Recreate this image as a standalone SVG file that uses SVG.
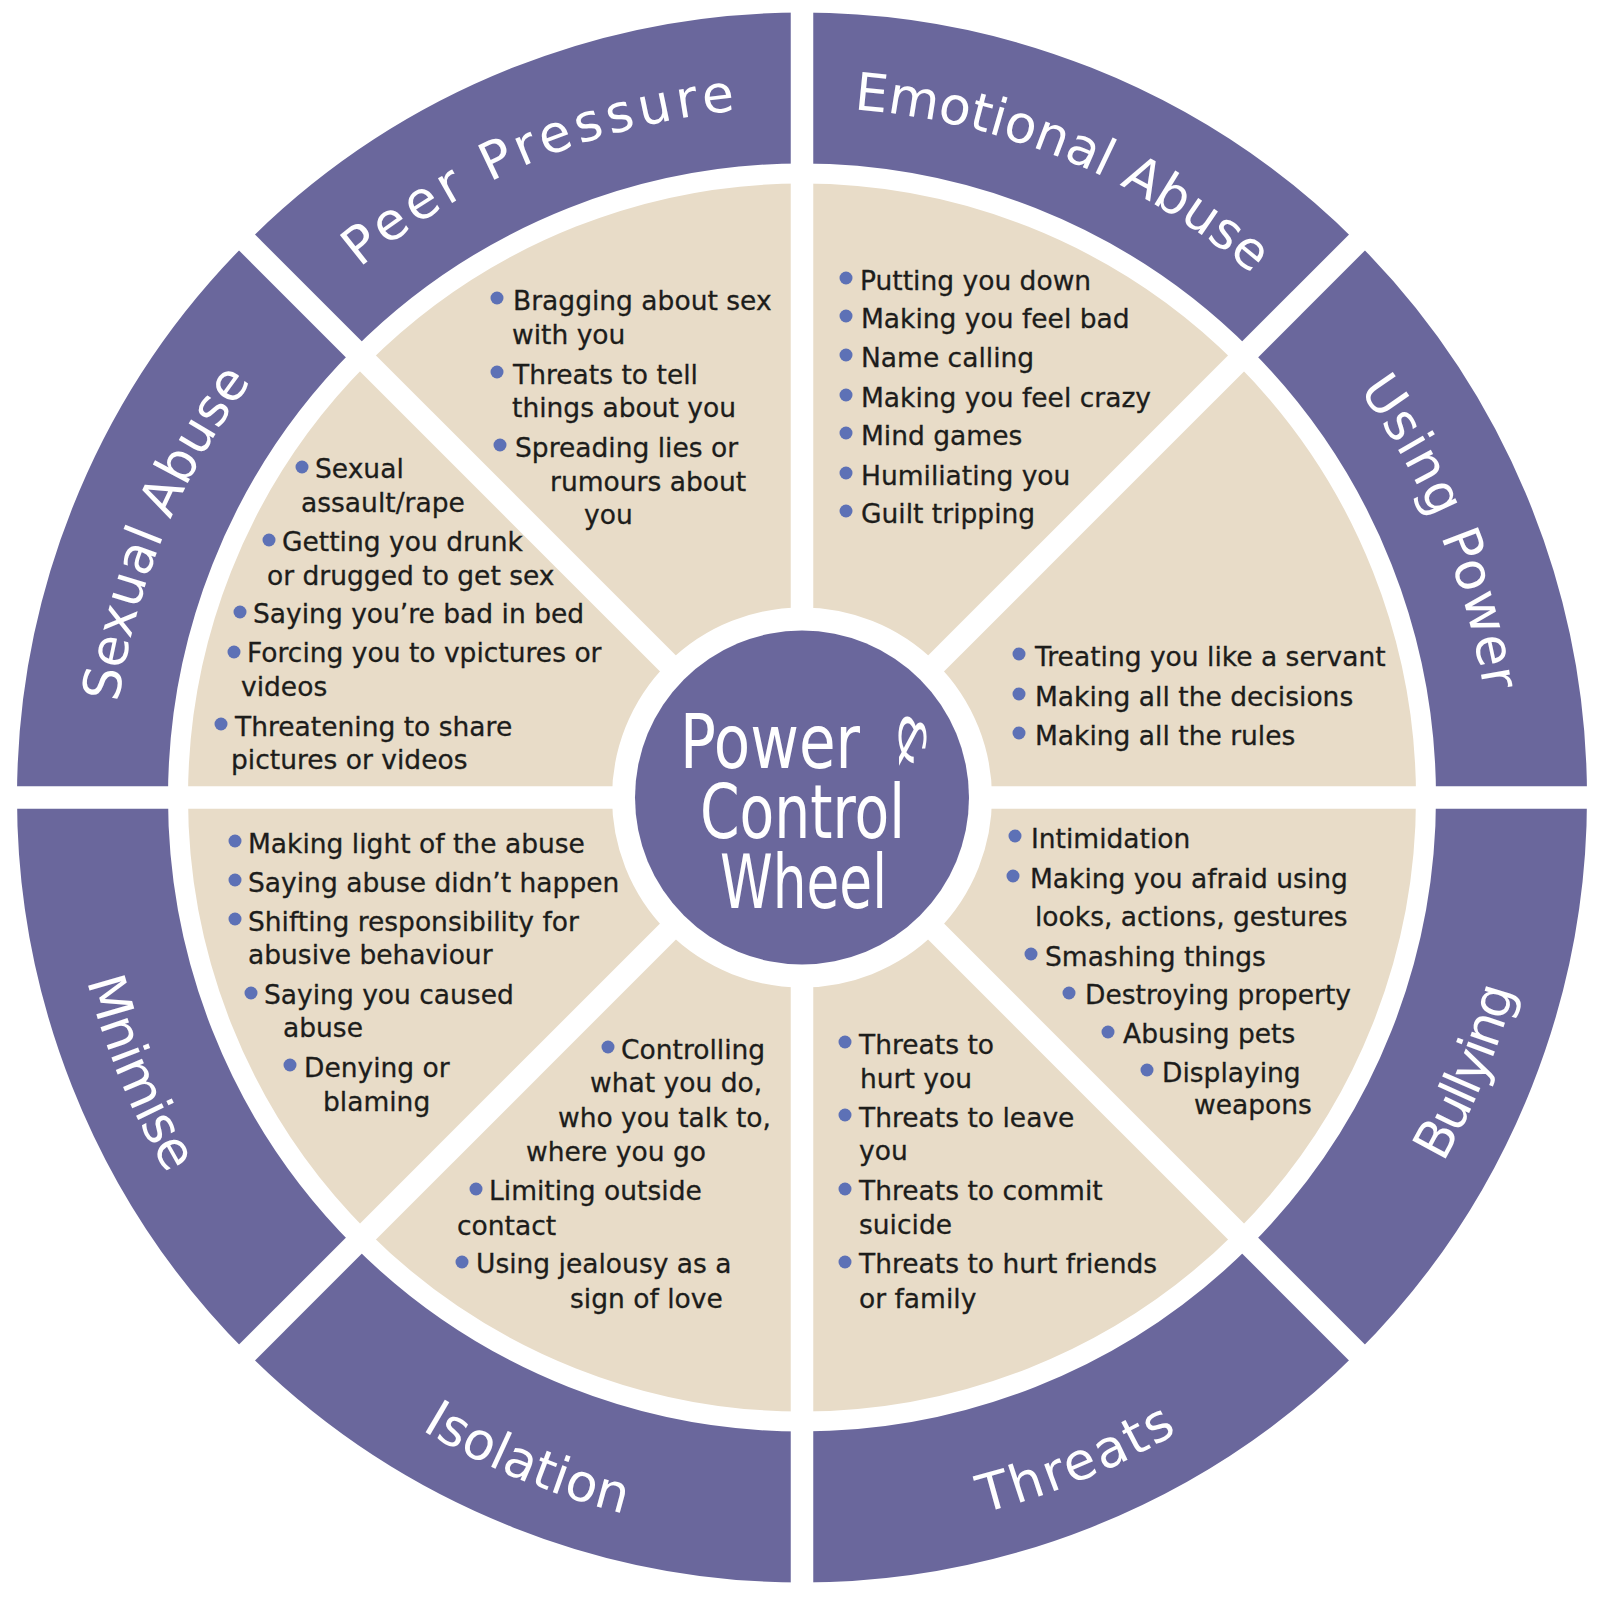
<svg xmlns="http://www.w3.org/2000/svg" width="1600" height="1600" viewBox="0 0 1600 1600">
<style>
.ring{fill:none;stroke:#6a679c;stroke-width:151}
.beige{fill:none;stroke:#e8dcc8;stroke-width:424}
.div{stroke:#ffffff;stroke-width:22.5}
.hub{fill:#6a679c}
.lbl{font-family:"DejaVu Sans",sans-serif;font-size:52px;fill:#ffffff}
.ctr{font-family:"DejaVu Sans",sans-serif;font-size:74px;fill:#ffffff}
.t{font-family:"DejaVu Sans",sans-serif;font-size:26.5px;fill:#1d1d1b;stroke:#1d1d1b;stroke-width:0.3}
.d{fill:#5d71b6}
</style>
<defs>
<path id="pSex" d="M 112 797.5 A 690 690 0 0 1 314.1 309.6"/>
<path id="pPeer" d="M 314.1 309.6 A 690 690 0 0 1 802 107.5"/>
<path id="pEmo" d="M 802 107.5 A 690 690 0 0 1 1289.9 309.6"/>
<path id="pPow" d="M 1289.9 309.6 A 690 690 0 0 1 1492 797.5"/>
<path id="pBul" d="M 1323.8 1319.3 A 738 738 0 0 0 1540 797.5"/>
<path id="pThr" d="M 802 1535.5 A 738 738 0 0 0 1323.8 1319.3"/>
<path id="pIso" d="M 280.2 1319.3 A 738 738 0 0 0 802 1535.5"/>
<path id="pMin" d="M 64 797.5 A 738 738 0 0 0 280.2 1319.3"/>
</defs>
<rect width="1600" height="1600" fill="#ffffff"/>
<g id="wheel">
<circle class="ring" cx="802" cy="797.5" r="709.5"/>
<circle class="beige" cx="802" cy="797.5" r="402"/>
</g>
<g id="connectors">
<line class="div" x1="802" y1="0" x2="802" y2="1600"/>
<line class="div" x1="0" y1="797.5" x2="1600" y2="797.5"/>
<line class="div" x1="0" y1="-4.5" x2="1604" y2="1599.5"/>
<line class="div" x1="0" y1="1599.5" x2="1604" y2="-4.5"/>
</g>
<g id="center">
<circle class="hub" cx="802" cy="797.5" r="167"/>
<text class="ctr" x="680" y="768" textLength="180" lengthAdjust="spacingAndGlyphs">Power</text>
<text class="ctr" x="700" y="838" textLength="205" lengthAdjust="spacingAndGlyphs">Control</text>
<text class="ctr" x="720" y="908" textLength="167" lengthAdjust="spacingAndGlyphs">Wheel</text>
<text class="ctr" style="font-size:38px" transform="translate(899 712) rotate(90)" x="0" y="0" textLength="56" lengthAdjust="spacingAndGlyphs">&amp;</text>
</g>
<g id="seg-peer-pressure">
<text class="lbl" style="letter-spacing:5px"><textPath href="#pPeer" startOffset="50%" text-anchor="middle">Peer Pressure</textPath></text>
<circle class="d" cx="497" cy="298" r="6.5"/><circle class="d" cx="497" cy="372" r="6.5"/><circle class="d" cx="500" cy="445" r="6.5"/>
<text class="t" x="513" y="310">Bragging about sex</text>
<text class="t" x="512" y="344">with you</text>
<text class="t" x="513" y="384">Threats to tell</text>
<text class="t" x="512" y="417">things about you</text>
<text class="t" x="515" y="457">Spreading lies or</text>
<text class="t" x="550" y="491">rumours about</text>
<text class="t" x="584" y="524">you</text>
</g>
<g id="seg-emotional-abuse">
<text class="lbl"><textPath href="#pEmo" startOffset="50%" text-anchor="middle">Emotional Abuse</textPath></text>
<circle class="d" cx="846" cy="278" r="6.5"/><circle class="d" cx="846" cy="316" r="6.5"/><circle class="d" cx="846" cy="355" r="6.5"/><circle class="d" cx="846" cy="395" r="6.5"/><circle class="d" cx="846" cy="433" r="6.5"/><circle class="d" cx="846" cy="473" r="6.5"/><circle class="d" cx="846" cy="511" r="6.5"/>
<text class="t" x="860" y="290">Putting you down</text>
<text class="t" x="861" y="328">Making you feel bad</text>
<text class="t" x="861" y="367">Name calling</text>
<text class="t" x="861" y="407">Making you feel crazy</text>
<text class="t" x="861" y="445">Mind games</text>
<text class="t" x="861" y="485">Humiliating you</text>
<text class="t" x="861" y="523">Guilt tripping</text>
</g>
<g id="seg-using-power">
<text class="lbl" style="letter-spacing:1px"><textPath href="#pPow" startOffset="50%" text-anchor="middle">Using Power</textPath></text>
<circle class="d" cx="1019" cy="654" r="6.5"/><circle class="d" cx="1019" cy="694" r="6.5"/><circle class="d" cx="1019" cy="733" r="6.5"/>
<text class="t" x="1035" y="666">Treating you like a servant</text>
<text class="t" x="1035" y="706">Making all the decisions</text>
<text class="t" x="1035" y="745">Making all the rules</text>
</g>
<g id="seg-bullying">
<text class="lbl" style="letter-spacing:-3px"><textPath href="#pBul" startOffset="50%" text-anchor="middle">Bullying</textPath></text>
<circle class="d" cx="1015" cy="836" r="6.5"/><circle class="d" cx="1013" cy="876" r="6.5"/><circle class="d" cx="1031" cy="954" r="6.5"/><circle class="d" cx="1069" cy="993" r="6.5"/><circle class="d" cx="1108" cy="1032" r="6.5"/><circle class="d" cx="1147" cy="1070" r="6.5"/>
<text class="t" x="1031" y="848">Intimidation</text>
<text class="t" x="1030" y="888">Making you afraid using</text>
<text class="t" x="1035" y="926">looks, actions, gestures</text>
<text class="t" x="1045" y="966">Smashing things</text>
<text class="t" x="1085" y="1004">Destroying property</text>
<text class="t" x="1123" y="1043">Abusing pets</text>
<text class="t" x="1162" y="1082">Displaying</text>
<text class="t" x="1194" y="1114">weapons</text>
</g>
<g id="seg-threats">
<text class="lbl" style="letter-spacing:2.5px"><textPath href="#pThr" startOffset="50%" text-anchor="middle">Threats</textPath></text>
<circle class="d" cx="845" cy="1042" r="6.5"/><circle class="d" cx="845" cy="1115" r="6.5"/><circle class="d" cx="845" cy="1189" r="6.5"/><circle class="d" cx="845" cy="1262" r="6.5"/>
<text class="t" x="859" y="1054">Threats to</text>
<text class="t" x="860" y="1088">hurt you</text>
<text class="t" x="859" y="1127">Threats to leave</text>
<text class="t" x="859" y="1160">you</text>
<text class="t" x="859" y="1200">Threats to commit</text>
<text class="t" x="859" y="1234">suicide</text>
<text class="t" x="859" y="1273">Threats to hurt friends</text>
<text class="t" x="859" y="1308">or family</text>
</g>
<g id="seg-isolation">
<text class="lbl"><textPath href="#pIso" startOffset="50%" text-anchor="middle">Isolation</textPath></text>
<circle class="d" cx="608" cy="1047" r="6.5"/><circle class="d" cx="476" cy="1189" r="6.5"/><circle class="d" cx="462" cy="1262" r="6.5"/>
<text class="t" x="621" y="1059">Controlling</text>
<text class="t" x="590" y="1092">what you do,</text>
<text class="t" x="558" y="1127">who you talk to,</text>
<text class="t" x="526" y="1161">where you go</text>
<text class="t" x="489" y="1200">Limiting outside</text>
<text class="t" x="457" y="1235">contact</text>
<text class="t" x="476" y="1273">Using jealousy as a</text>
<text class="t" x="570" y="1308">sign of love</text>
</g>
<g id="seg-minimise">
<text class="lbl" style="letter-spacing:-1px"><textPath href="#pMin" startOffset="50%" text-anchor="middle">Mnimise</textPath></text>
<circle class="d" cx="235" cy="841" r="6.5"/><circle class="d" cx="235" cy="880" r="6.5"/><circle class="d" cx="235" cy="919" r="6.5"/><circle class="d" cx="251" cy="993" r="6.5"/><circle class="d" cx="290" cy="1065" r="6.5"/>
<text class="t" x="248" y="853">Making light of the abuse</text>
<text class="t" x="248" y="892">Saying abuse didn’t happen</text>
<text class="t" x="248" y="931">Shifting responsibility for</text>
<text class="t" x="248" y="964">abusive behaviour</text>
<text class="t" x="264" y="1004">Saying you caused</text>
<text class="t" x="283" y="1037">abuse</text>
<text class="t" x="304" y="1077">Denying or</text>
<text class="t" x="323" y="1111">blaming</text>
</g>
<g id="seg-sexual-abuse">
<text class="lbl"><textPath href="#pSex" startOffset="50%" text-anchor="middle">Sexual Abuse</textPath></text>
<circle class="d" cx="302" cy="467" r="6.5"/><circle class="d" cx="269" cy="540" r="6.5"/><circle class="d" cx="240" cy="612" r="6.5"/><circle class="d" cx="234" cy="652" r="6.5"/><circle class="d" cx="221" cy="724" r="6.5"/>
<text class="t" x="315" y="478">Sexual</text>
<text class="t" x="301" y="512">assault/rape</text>
<text class="t" x="282" y="551">Getting you drunk</text>
<text class="t" x="267" y="585">or drugged to get sex</text>
<text class="t" x="253" y="623">Saying you’re bad in bed</text>
<text class="t" x="247" y="662">Forcing you to vpictures or</text>
<text class="t" x="241" y="696">videos</text>
<text class="t" x="235" y="736">Threatening to share</text>
<text class="t" x="231" y="769">pictures or videos</text>
</g>
</svg>
